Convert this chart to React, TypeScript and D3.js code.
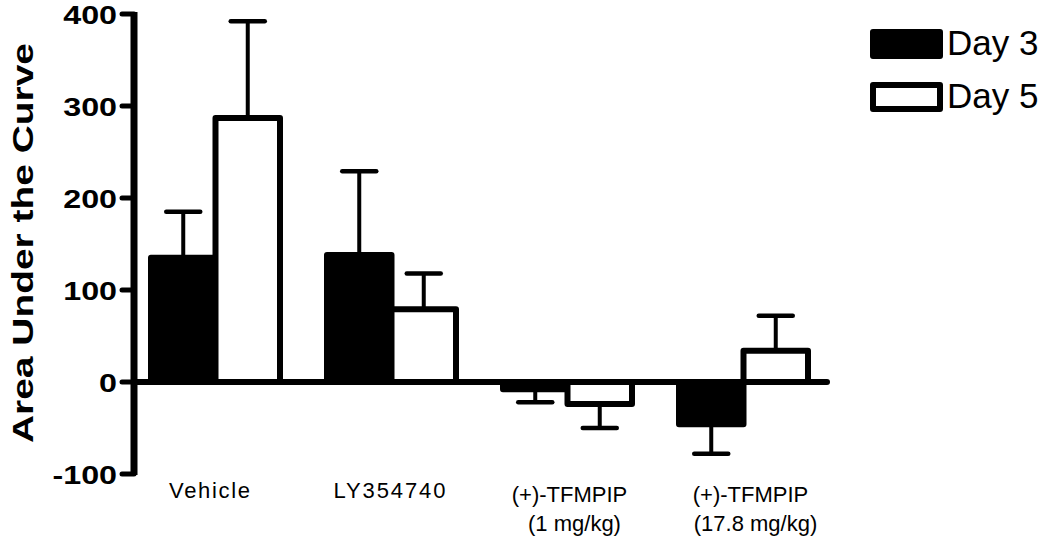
import React from "react";
import * as d3 from "d3";

const categories = ["Vehicle", "LY354740", "(+)-TFMPIP|(1 mg/kg)", "(+)-TFMPIP|(17.8 mg/kg)"];
const seriesNames = ["Day 3", "Day 5"];
const day3Values = [135, 138, -8, -46];
const day3Errors = [50, 91, 14, 32];
const day5Values = [287, 79, -24, 34];
const day5Errors = [105, 39, 26, 38];
const yTicks = [-100, 0, 100, 200, 300, 400];

const FONT = "'Liberation Sans', Arial, Helvetica, sans-serif";

export default function App() {
  const W = 1050, H = 538;
  const y = d3.scaleLinear().domain([-100, 400]).range([474, 14]);
  const x = d3.scaleBand<string>().domain(categories).range([151, 808]).paddingInner(47 / 176).paddingOuter(0);
  const xs = d3.scaleBand<string>().domain(seriesNames).range([0, x.bandwidth()]).padding(0);
  const axisX = 134;
  const series = [
    { name: "Day 3", values: day3Values, errors: day3Errors, fill: "#000" },
    { name: "Day 5", values: day5Values, errors: day5Errors, fill: "#fff" },
  ];
  const labelLengths = [81, 112, null, null];

  return (
    <svg width={W} height={H} style={{ position: "absolute", left: 0, top: 0, background: "#fff" }}>
      <rect x={0} y={0} width={W} height={H} fill="#fff" />
      {/* bars */}
      {series.map((s) =>
        categories.map((c, i) => {
          const v = s.values[i];
          const bx = (x(c) as number) + (xs(s.name) as number);
          const bw = xs.bandwidth();
          const y0 = y(0), y1 = y(v);
          const top = Math.min(y0, y1), h = Math.abs(y1 - y0);
          const cx = bx + bw / 2;
          const ey = y(v + (v >= 0 ? s.errors[i] : -s.errors[i]));
          return (
            <g key={s.name + c}>
              <line x1={cx} x2={cx} y1={y1} y2={ey} stroke="#000" strokeWidth={4} />
              <line x1={cx - 17} x2={cx + 17} y1={ey} y2={ey} stroke="#000" strokeWidth={4.5} strokeLinecap="round" />
              <rect x={bx} y={top} width={bw} height={h} fill={s.fill} stroke="#000" strokeWidth={6} strokeLinejoin="round" />
            </g>
          );
        })
      )}
      {/* zero line */}
      <line x1={axisX} x2={827} y1={y(0)} y2={y(0)} stroke="#000" strokeWidth={6} strokeLinecap="round" />
      {/* y axis */}
      <line x1={axisX} x2={axisX} y1={y(400) - 2} y2={y(-100) + 1} stroke="#000" strokeWidth={7} />
      {yTicks.map((t) => (
        <g key={t}>
          <line x1={122} x2={axisX} y1={y(t)} y2={y(t)} stroke="#000" strokeWidth={5} strokeLinecap="round" />
          <g transform={`translate(117,${y(t) + 9.5}) scale(1.29,1)`}>
            <text x={0} y={0} textAnchor="end" fontFamily={FONT} fontWeight="bold" fontSize={25} fill="#000">
              {t}
            </text>
          </g>
        </g>
      ))}
      {/* y title */}
      <text
        transform={`translate(33,243) rotate(-90)`}
        textAnchor="middle"
        fontFamily={FONT}
        fontWeight="bold"
        fontSize={30}
        textLength={400}
        lengthAdjust="spacingAndGlyphs"
        fill="#000"
      >
        Area Under the Curve
      </text>
      {/* x labels */}
      {categories.map((c, i) => {
        const lines = c.split("|");
        const cx = (x(c) as number) + x.bandwidth() / 2;
        const offsets = [-6, -2, 2, 7];
        return (
          <g key={c}>
            {lines.map((ln, j) => (
              <text
                key={j}
                x={cx + offsets[i] + (j === 1 ? (i === 2 ? 5 : 5) : 0)}
                y={j === 0 ? (lines.length > 1 ? 502 : 498) : 531}
                textAnchor="middle"
                fontFamily={FONT}
                fontSize={22}
                fill="#000"
                {...(labelLengths[i] ? { textLength: labelLengths[i] as number, lengthAdjust: "spacing" } : {})}
              >
                {ln}
              </text>
            ))}
          </g>
        );
      })}
      {/* legend */}
      {series.map((s, i) => (
        <g key={s.name} transform={`translate(873,${32 + i * 53})`}>
          <rect x={0} y={0} width={67} height={24} fill={s.fill} stroke="#000" strokeWidth={6} strokeLinejoin="round" />
          <text x={74} y={23} fontFamily={FONT} fontSize={35} fill="#000">
            {s.name}
          </text>
        </g>
      ))}
    </svg>
  );
}
